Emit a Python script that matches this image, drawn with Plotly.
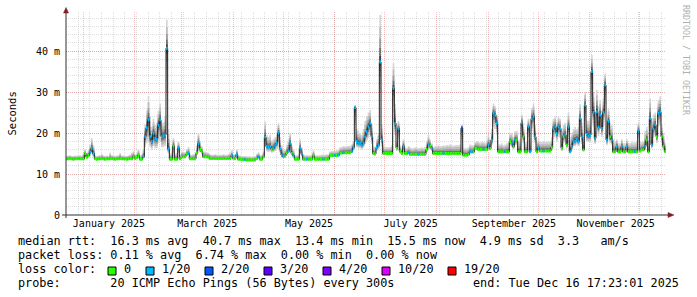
import numpy as np
import pandas as pd
import plotly.graph_objects as go

# ---------------- data ----------------
START = "2024-12-21 17:23:01"
END = "2025-12-16 17:23:01"

# daily median RTT in ms, 360 days
median_ms = [
    13.7,13.7,13.8,13.7,13.6,13.7,13.7,13.8,13.7,13.7,
    13.7,15.0,14.1,14.5,15.3,16.3,15.0,13.7,13.6,13.7,
    13.7,13.8,13.7,13.6,13.7,13.7,13.7,13.8,13.7,13.6,
    13.7,13.7,13.8,13.7,13.7,13.7,13.6,13.7,13.8,13.7,
    14.2,13.8,14.0,14.5,13.6,13.6,14.2,19.1,21.3,23.2,
    19.1,17.9,19.9,18.7,18.5,21.9,23.2,19.1,19.3,19.5,
    40.7,16.1,13.6,13.6,16.8,13.6,13.6,16.3,13.7,14.2,
    14.2,14.2,14.9,15.0,13.7,13.7,13.7,13.7,15.2,17.4,
    16.0,15.4,14.2,14.2,14.2,14.1,13.8,13.8,13.8,13.8,
    13.8,13.8,13.8,13.8,13.8,13.8,13.8,13.8,13.8,14.5,
    13.8,13.8,14.8,13.6,13.6,13.5,13.5,13.5,13.4,13.4,
    13.4,13.4,13.4,13.4,13.8,14.2,13.6,13.6,14.2,19.0,
    16.7,16.5,16.7,16.0,16.3,16.9,17.5,20.0,16.2,14.6,
    14.3,14.4,15.2,15.6,17.5,15.0,14.5,13.6,13.6,13.6,
    16.3,14.8,13.6,13.6,13.6,13.6,13.6,13.6,14.4,13.6,
    13.6,13.6,13.6,13.6,13.6,13.6,13.6,13.6,14.5,14.5,
    14.5,14.5,14.5,14.6,15.1,15.1,15.2,15.2,15.2,15.2,
    15.2,15.5,16.5,26.2,17.9,17.5,17.5,17.0,17.6,19.0,
    20.3,21.5,22.4,19.1,15.0,14.9,16.5,17.1,37.3,18.3,
    15.0,15.0,15.0,15.0,15.0,15.0,30.9,22.4,16.3,21.1,
    15.5,15.0,16.7,15.0,15.0,15.2,14.8,14.8,14.8,14.8,
    14.8,14.8,14.8,14.8,14.8,14.8,16.0,17.2,16.8,16.3,
    15.0,15.0,15.0,15.0,15.0,15.0,15.0,15.0,15.0,15.0,
    15.0,15.0,15.0,15.0,15.0,15.0,15.0,21.2,14.6,14.6,
    14.6,14.8,15.4,15.4,15.4,16.3,16.3,16.0,16.0,16.0,
    16.0,16.0,16.0,17.1,16.2,18.3,24.8,24.3,22.4,15.4,
    15.4,15.4,15.4,15.4,15.4,15.4,17.9,17.5,16.7,18.3,
    18.3,15.4,15.4,22.5,19.1,15.4,15.4,21.5,15.4,23.5,
    24.0,19.1,15.4,16.3,15.6,15.6,15.6,15.6,15.6,15.6,
    15.6,16.5,21.0,21.5,19.9,21.5,21.1,16.3,19.1,19.5,
    17.1,21.5,15.4,16.7,17.9,18.0,18.5,18.0,23.6,19.0,
    15.9,26.8,19.7,19.3,19.5,35.0,25.0,18.7,25.2,21.5,
    24.4,21.1,25.0,31.7,18.3,22.8,19.1,18.3,15.4,15.4,
    16.7,15.4,15.4,16.7,15.4,15.4,16.7,15.4,15.4,15.4,
    15.4,15.4,15.4,20.5,15.6,15.9,15.9,16.7,18.3,15.4,
    23.6,17.1,21.0,22.0,19.1,24.8,25.2,19.1,16.8,15.5,
]

# lost pings out of 20, per day
loss_20 = [
    0,0,0,0,0,0,0,0,0,0,
    0,0,0,0,1,1,1,0,0,0,
    0,0,0,0,0,0,0,0,0,0,
    0,0,0,0,0,0,0,0,0,0,
    0,0,0,0,0,0,1,1,1,1,
    1,1,1,1,1,1,1,1,1,1,
    1,1,0,0,0,0,0,1,0,0,
    0,0,0,1,0,0,0,0,0,1,
    0,0,0,0,0,0,0,0,0,0,
    0,0,0,0,0,0,0,0,0,1,
    0,0,1,0,0,0,0,1,0,0,
    0,0,0,0,0,1,0,0,0,1,
    1,1,1,0,1,1,1,1,1,1,
    1,0,0,1,1,0,1,0,0,0,
    1,1,0,0,1,0,0,0,0,0,
    0,0,0,0,1,0,0,0,0,0,
    0,1,0,1,0,0,1,0,0,0,
    0,1,1,1,1,1,1,1,1,1,
    1,1,1,1,0,0,1,1,1,1,
    0,0,0,0,0,0,1,1,0,1,
    0,0,1,0,0,1,0,0,0,0,
    0,1,0,0,0,0,0,1,0,1,
    0,0,0,0,0,0,1,0,0,0,
    0,0,0,0,0,0,0,2,0,0,
    0,0,1,1,0,0,0,0,0,0,
    1,0,0,1,0,1,1,1,1,0,
    0,0,0,1,0,0,0,1,0,1,
    0,0,0,1,0,0,0,1,1,1,
    1,1,0,1,0,0,1,0,0,0,
    0,0,1,1,1,1,1,0,0,1,
    0,1,1,1,1,1,1,1,1,1,
    0,1,1,1,1,1,1,1,1,1,
    1,1,1,1,1,1,0,1,0,0,
    1,0,0,1,0,0,1,0,0,0,
    0,1,0,1,0,0,0,1,0,0,
    1,1,1,1,0,1,1,0,0,0,
]

# slowest ping of the day (top of the smoke), ms
ping_max_ms = [
    14.4,14.5,14.6,14.4,14.4,14.5,14.4,14.6,14.5,14.5,
    15.0,16.0,15.2,15.8,17.2,18.7,17.0,14.6,14.4,14.5,
    14.6,14.9,14.5,14.4,14.5,14.4,15.2,14.6,14.5,14.4,
    14.5,14.6,15.1,14.5,14.5,14.4,14.4,14.6,14.7,15.2,
    15.6,14.8,15.0,16.0,14.5,14.8,16.0,22.0,25.5,28.9,
    24.0,21.5,23.5,22.0,22.5,25.5,27.2,22.5,22.5,24.0,
    47.6,21.0,15.0,15.5,18.8,15.0,15.2,18.0,14.8,15.5,
    15.4,15.3,16.0,16.6,14.8,14.7,14.9,15.0,17.0,20.0,
    18.0,16.8,15.4,15.5,15.3,15.2,14.8,14.7,14.7,14.8,
    14.7,14.6,14.7,14.7,14.8,14.7,14.7,14.9,15.2,15.8,
    14.8,14.8,16.0,14.6,14.5,14.4,14.4,14.4,14.3,14.3,
    14.3,14.2,14.3,14.4,14.9,15.3,14.6,14.6,15.5,22.8,
    19.5,19.0,19.5,18.2,18.5,19.0,20.0,22.4,19.0,17.0,
    16.0,16.0,17.0,18.5,20.0,17.0,16.0,14.6,14.6,14.8,
    18.5,16.5,14.8,14.6,14.6,14.6,14.6,14.7,15.8,14.6,
    14.6,14.6,14.6,14.7,14.7,14.7,14.8,14.8,15.5,15.6,
    15.6,15.6,15.8,15.8,16.5,16.6,16.8,16.7,16.8,16.9,
    16.9,17.2,18.0,26.8,21.0,20.5,20.0,19.5,21.0,23.0,
    24.0,25.0,25.6,22.0,16.8,16.5,18.5,20.0,48.8,22.0,
    17.0,16.5,16.6,16.5,16.6,17.0,37.0,27.0,18.0,23.0,
    17.0,16.5,18.5,16.5,16.3,16.8,16.5,16.3,16.3,16.5,
    16.5,16.3,16.4,16.5,16.4,16.6,18.0,19.5,18.5,17.5,
    16.6,16.8,16.9,17.0,16.8,16.8,17.0,16.9,17.1,17.0,
    17.2,17.0,16.9,17.0,17.1,17.0,17.2,22.0,16.5,16.3,
    16.3,16.5,17.2,17.0,17.0,17.8,18.0,18.0,17.6,17.8,
    17.8,17.6,18.0,19.5,18.5,21.0,27.2,26.5,24.5,17.5,
    17.2,17.5,17.0,17.2,17.5,17.8,20.0,20.0,19.0,20.5,
    20.5,18.0,18.5,24.5,21.5,17.8,17.8,23.5,18.5,26.0,
    27.2,22.0,18.0,18.5,17.8,17.8,18.0,17.8,18.0,17.8,
    18.0,19.0,23.5,24.0,22.5,24.0,23.5,19.5,22.0,22.5,
    20.5,25.0,19.0,20.0,21.0,21.5,21.0,21.5,27.0,22.5,
    20.0,30.0,23.0,23.0,23.5,39.0,30.0,24.0,30.5,26.5,
    28.0,25.5,28.5,34.5,23.0,26.0,22.5,22.0,18.5,18.0,
    18.5,17.5,17.5,18.5,17.5,17.5,18.5,17.6,17.5,17.8,
    17.6,17.8,18.0,22.5,17.8,17.8,18.0,20.5,21.5,18.0,
    28.5,21.0,24.5,25.0,22.0,28.0,28.9,22.0,20.0,17.5,
]

# fastest ping of the day (bottom of the smoke), ms
ping_min_ms = [
    13.4,13.4,13.5,13.4,13.3,13.4,13.4,13.5,13.4,13.4,
    13.4,14.0,13.8,14.0,14.4,15.0,14.2,13.4,13.3,13.4,
    13.4,13.5,13.4,13.3,13.4,13.4,13.4,13.5,13.4,13.3,
    13.4,13.4,13.5,13.4,13.4,13.4,13.3,13.4,13.5,13.4,
    13.8,13.5,13.7,14.0,13.3,13.3,13.8,16.5,17.5,18.0,
    16.5,16.0,16.8,16.2,16.3,17.5,18.0,16.5,16.5,16.8,
    30.0,15.0,13.3,13.3,15.0,13.3,13.3,15.0,13.4,13.9,
    13.9,13.9,14.4,14.5,13.4,13.4,13.4,13.4,14.6,16.0,
    15.3,15.0,13.9,13.9,13.9,13.8,13.5,13.5,13.5,13.5,
    13.5,13.5,13.5,13.5,13.5,13.5,13.5,13.5,13.5,14.1,
    13.5,13.5,14.3,13.3,13.3,13.2,13.2,13.2,13.1,13.1,
    13.1,13.1,13.1,13.1,13.5,13.8,13.3,13.3,13.8,16.5,
    15.5,15.3,15.5,15.2,15.3,15.6,16.0,17.5,15.2,14.0,
    13.9,14.0,14.7,15.0,16.0,14.6,14.1,13.3,13.3,13.3,
    15.2,14.3,13.3,13.3,13.3,13.3,13.3,13.3,14.0,13.3,
    13.3,13.3,13.3,13.3,13.3,13.3,13.3,13.3,14.2,14.2,
    14.2,14.2,14.2,14.3,14.8,14.8,14.9,14.9,14.9,14.9,
    14.9,15.1,15.8,22.0,16.5,16.3,16.3,16.0,16.4,17.3,
    18.0,18.8,19.5,17.3,14.7,14.6,15.6,16.0,30.0,16.8,
    14.7,14.7,14.7,14.7,14.7,14.7,25.0,19.5,15.6,18.5,
    15.1,14.7,15.8,14.7,14.7,14.9,14.5,14.5,14.5,14.5,
    14.5,14.5,14.5,14.5,14.5,14.5,15.3,16.2,15.9,15.6,
    14.7,14.7,14.7,14.7,14.7,14.7,14.7,14.7,14.7,14.7,
    14.7,14.7,14.7,14.7,14.7,14.7,14.7,18.5,14.3,14.3,
    14.3,14.5,15.0,15.0,15.0,15.8,15.8,15.6,15.6,15.6,
    15.6,15.6,15.6,16.3,15.7,17.0,21.5,21.0,19.5,15.1,
    15.1,15.1,15.1,15.1,15.1,15.1,16.8,16.5,16.0,17.0,
    17.0,15.1,15.1,19.5,17.5,15.1,15.1,19.0,15.1,20.5,
    21.0,17.5,15.1,15.6,15.3,15.3,15.3,15.3,15.3,15.3,
    15.3,15.8,18.5,19.0,17.8,19.0,18.8,15.6,17.5,17.8,
    16.2,19.0,15.1,15.8,16.8,16.8,17.2,16.8,20.5,17.3,
    15.5,23.0,18.0,17.8,17.8,29.0,21.5,17.3,21.5,19.2,
    21.0,19.0,21.5,27.0,17.0,20.0,17.5,17.0,15.1,15.1,
    15.8,15.1,15.1,15.8,15.1,15.1,15.8,15.1,15.1,15.1,
    15.1,15.1,15.1,18.5,15.3,15.6,15.6,15.8,16.8,15.1,
    20.5,16.2,18.8,19.5,17.5,21.5,21.8,17.5,16.0,15.2,
]

month_starts = ["2025-01-01", "2025-02-01", "2025-03-01", "2025-04-01",
                "2025-05-01", "2025-06-01", "2025-07-01", "2025-08-01",
                "2025-09-01", "2025-10-01", "2025-11-01", "2025-12-01"]
label_dates = ["2025-01-16 12:00", "2025-03-16 12:00", "2025-05-16 12:00",
               "2025-07-16 12:00", "2025-09-16 12:00", "2025-11-16 12:00"]
label_text = ["January 2025", "March 2025", "May 2025",
              "July 2025", "September 2025", "November 2025"]
y_tickvals = [0, 10, 20, 30, 40]
y_ticktext = ["0", "10 m", "20 m", "30 m", "40 m"]

loss_levels = [0, 1, 2, 3, 4, 10, 19]
loss_labels = ["0", "1/20", "2/20", "3/20", "4/20", "10/20", "19/20"]
loss_colors = ["#26ff00", "#00b8ff", "#0059ff", "#5e00ff", "#7e00ff", "#dd00ff", "#ff0000"]

legend_lines = [
    "median rtt:  16.3 ms avg  40.7 ms max  13.4 ms min  15.5 ms now  4.9 ms sd  3.3   am/s",
    "packet loss: 0.11 % avg  6.74 % max  0.00 % min  0.00 % now",
]
probe_line = "probe:       20 ICMP Echo Pings (56 Bytes) every 300s"
end_text = "end: Tue Dec 16 17:23:01 2025"
watermark = "RRDTOOL / TOBI OETIKER"

# ---------------- layout geometry (pixels) ----------------
W, H = 697, 297
L, R, T, B = 66, 31, 12, 82
PW, PH = W - L - R, H - T - B
Y_TOP = PH / 4.1  # 4.1 px per ms

def px(x):
    return (x - L) / PW

def py(y):
    return (H - B - y) / PH

MONO = "DejaVu Sans Mono"

# ---------------- traces ----------------
n = len(median_ms)
t = pd.Timestamp(START) + pd.to_timedelta(np.arange(n + 1), unit="D")
t = list(t[:-1]) + [pd.Timestamp(END)]
med = np.array(median_ms)
pmax = np.array(ping_max_ms)
pmin = np.array(ping_min_ms)

def step(arr):
    return list(arr) + [arr[-1]]

fig = go.Figure()

smoke_levels = [(1.0, "#d6d6d6"), (0.75, "#bdbdbd"), (0.5, "#9c9c9c"),
                (0.3, "#727272"), (0.13, "#444444")]
for f, col in smoke_levels:
    lo = med - f * (med - pmin)
    hi = med + f * (pmax - med)
    fig.add_trace(go.Scatter(x=t, y=step(lo), mode="lines", line=dict(width=0, shape="hv"),
                             hoverinfo="skip", showlegend=False))
    fig.add_trace(go.Scatter(x=t, y=step(hi), mode="lines", line=dict(width=0, shape="hv"),
                             fill="tonexty", fillcolor=col, hoverinfo="skip", showlegend=False))

fig.add_trace(go.Scatter(x=t, y=step(med), mode="lines",
                         line=dict(color="#202020", width=1, shape="hv"),
                         hoverinfo="skip", showlegend=False))

for lvl, col in zip(loss_levels, loss_colors):
    xs, ys = [], []
    for i in range(n):
        if loss_20[i] == lvl:
            xs += [t[i], t[i + 1], None]
            ys += [median_ms[i], median_ms[i], None]
    if xs:
        fig.add_trace(go.Scatter(x=xs, y=ys, mode="lines", line=dict(color=col, width=3),
                                 hoverinfo="skip", showlegend=False))

# dummy trace to activate the overlay axis carrying the month grid
fig.add_trace(go.Scatter(x=[START, END], y=[None, None], xaxis="x2", mode="lines",
                         hoverinfo="skip", showlegend=False))

GRID = "rgba(150,150,150,0.32)"
MGRID = "rgba(222,81,81,0.38)"
DASH = "1px,1px"

week_grid = pd.date_range("2024-12-22", END, freq="7D")

fig.update_layout(
    width=W, height=H, margin=dict(l=L, r=R, t=T, b=B, pad=0),
    paper_bgcolor="white", plot_bgcolor="white", showlegend=False,
    xaxis=dict(type="date", range=[START, END], tickmode="array",
               tickvals=label_dates, ticktext=label_text, showgrid=False,
               ticks="", showline=False, zeroline=False, ticklabelstandoff=1,
               tickfont=dict(family=MONO, size=10, color="black"),
               minor=dict(tickmode="array", tickvals=list(week_grid), showgrid=True,
                          gridcolor=GRID, griddash=DASH, gridwidth=1, ticks="")),
    xaxis2=dict(type="date", range=[START, END], overlaying="x", anchor="y",
                tickmode="array", tickvals=month_starts, showticklabels=False,
                showgrid=True, gridcolor=MGRID, griddash=DASH, gridwidth=1,
                ticks="", showline=False, zeroline=False),
    yaxis=dict(range=[0, Y_TOP], tickmode="array", tickvals=y_tickvals,
               ticktext=y_ticktext, showgrid=True, gridcolor=MGRID, griddash=DASH,
               ticks="", showline=False, zeroline=False, ticklabelstandoff=5,
               tickfont=dict(family=MONO, size=10, color="black"),
               minor=dict(tickmode="array", tickvals=list(range(2, 50, 2)),
                          showgrid=True, gridcolor=GRID, griddash=DASH, gridwidth=1, ticks="")),
)

shapes = []
AX = "#303030"
ARROW = "#7f1f1f"
# axis lines
shapes.append(dict(type="line", xref="paper", yref="paper", x0=px(62), x1=px(669),
                   y0=py(215), y1=py(215), line=dict(color=AX, width=1)))
shapes.append(dict(type="line", xref="paper", yref="paper", x0=px(66), x1=px(66),
                   y0=py(218), y1=py(12), line=dict(color=AX, width=1)))
# arrows
shapes.append(dict(type="path", xref="paper", yref="paper",
                   path=f"M {px(63.5)} {py(13)} L {px(68.5)} {py(13)} L {px(66)} {py(7.5)} Z",
                   fillcolor=ARROW, line=dict(color=ARROW, width=0.5)))
shapes.append(dict(type="path", xref="paper", yref="paper",
                   path=f"M {px(668)} {py(212.5)} L {px(668)} {py(217.5)} L {px(674)} {py(215)} Z",
                   fillcolor=ARROW, line=dict(color=ARROW, width=0.5)))

annotations = []
annotations.append(dict(text="Seconds", x=px(11), y=py(113.5), xref="paper", yref="paper",
                        textangle=-90, showarrow=False, xanchor="center", yanchor="middle",
                        font=dict(family=MONO, size=10.5, color="black")))
annotations.append(dict(text=watermark, x=px(686), y=py(60), xref="paper", yref="paper",
                        textangle=90, showarrow=False, xanchor="center", yanchor="middle",
                        font=dict(family=MONO, size=8.3, color="#b0b0b0")))

LEG_FONT = dict(family=MONO, size=11.8, color="black")
row_y = [241, 255, 269, 283]
for line, yy in zip(legend_lines, row_y[:2]):
    annotations.append(dict(text=line.replace(" ", "&nbsp;"), x=px(16), y=py(yy),
                            xref="paper", yref="paper", showarrow=False,
                            xanchor="left", yanchor="middle", font=LEG_FONT))
annotations.append(dict(text="loss&nbsp;color:", x=px(16), y=py(row_y[2]), xref="paper",
                        yref="paper", showarrow=False, xanchor="left", yanchor="middle",
                        font=LEG_FONT))
box_x = [108, 146, 205, 264, 323, 382, 448]
for bx, lab, col in zip(box_x, loss_labels, loss_colors):
    shapes.append(dict(type="rect", xref="paper", yref="paper", x0=px(bx), x1=px(bx + 8),
                       y0=py(275), y1=py(267), fillcolor=col, line=dict(color="black", width=1)))
    annotations.append(dict(text=lab, x=px(bx + 14), y=py(row_y[2]), xref="paper",
                            yref="paper", showarrow=False, xanchor="left", yanchor="middle",
                            font=LEG_FONT))
annotations.append(dict(text=probe_line.replace(" ", "&nbsp;"), x=px(16), y=py(row_y[3]),
                        xref="paper", yref="paper", showarrow=False, xanchor="left",
                        yanchor="middle", font=LEG_FONT))
annotations.append(dict(text=end_text.replace(" ", "&nbsp;"), x=px(681), y=py(row_y[3]),
                        xref="paper", yref="paper", showarrow=False, xanchor="right",
                        yanchor="middle", font=LEG_FONT))

fig.update_layout(shapes=shapes, annotations=annotations)
fig.write_html("out.html")
